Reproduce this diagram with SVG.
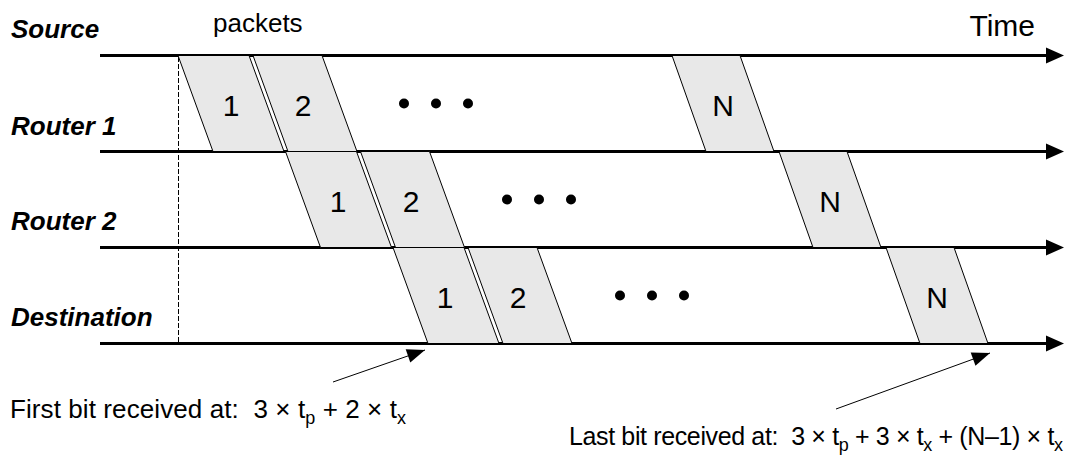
<svg xmlns="http://www.w3.org/2000/svg" width="1068" height="455" viewBox="0 0 1068 455">
<style>
.lbl{font-family:"Liberation Sans",Arial,sans-serif;font-size:26px;font-weight:bold;font-style:italic;fill:#000}
.txt{font-family:"Liberation Sans",Arial,sans-serif;fill:#000}
.pk{fill:#e8e8e8;stroke:#000;stroke-width:1}
.pn{font-family:"Liberation Sans",Arial,sans-serif;font-size:30px;fill:#000;text-anchor:middle}
.tl{stroke:#000;stroke-width:3;fill:none}
.ar{stroke:#000;stroke-width:1;fill:none}
.dot{fill:#000}
</style>
<defs>
<marker id="bigHead" markerUnits="userSpaceOnUse" markerWidth="18" markerHeight="16" refX="0" refY="8" orient="auto" overflow="visible">
<path d="M0,0 L18,8 L0,16 Z" fill="#000"/>
</marker>
<marker id="smallHead" markerUnits="userSpaceOnUse" markerWidth="18" markerHeight="14" refX="18" refY="7" orient="auto" overflow="visible">
<path d="M0,0 L18,7 L0,14 Z" fill="#000"/>
</marker>
</defs>
<rect width="1068" height="455" fill="#fff"/>

<g id="connectors">
<line class="tl" x1="100" y1="55.5" x2="1046" y2="55.5" marker-end="url(#bigHead)"/>
<line class="tl" x1="100" y1="151.5" x2="1046" y2="151.5" marker-end="url(#bigHead)"/>
<line class="tl" x1="100" y1="247.5" x2="1046" y2="247.5" marker-end="url(#bigHead)"/>
<line class="tl" x1="100" y1="343.5" x2="1046" y2="343.5" marker-end="url(#bigHead)"/>
<line x1="178.5" y1="57" x2="178.5" y2="342" stroke="#000" stroke-width="1" stroke-dasharray="5 2"/>
<line class="ar" x1="333" y1="382" x2="425" y2="350" marker-end="url(#smallHead)"/>
<line class="ar" x1="836" y1="409" x2="990" y2="353" marker-end="url(#smallHead)"/>
</g>

<g id="labels">
<text class="lbl" x="11" y="38">Source</text>
<text class="lbl" x="11" y="135">Router 1</text>
<text class="lbl" x="11" y="230">Router 2</text>
<text class="lbl" x="11" y="326">Destination</text>
<text class="txt" x="213" y="32" font-size="26">packets</text>
<text class="txt" x="1035" y="36" font-size="30" text-anchor="end">Time</text>
</g>

<g id="row1">
<polygon class="pk" points="178,55.5 249,55.5 284,151.5 213,151.5"/>
<polygon class="pk" points="253,55.5 322,55.5 357,151.5 288,151.5"/>
<polygon class="pk" points="672,55.5 740,55.5 774,151.5 706,151.5"/>
<text class="pn" x="231" y="116">1</text>
<text class="pn" x="303" y="116">2</text>
<text class="pn" x="723" y="116">N</text>
<circle class="dot" cx="404" cy="103.5" r="5"/>
<circle class="dot" cx="436" cy="103.5" r="5"/>
<circle class="dot" cx="468" cy="103.5" r="5"/>
</g>

<g id="row2">
<polygon class="pk" points="285.5,151.5 356.5,151.5 391.5,247.5 320.5,247.5"/>
<polygon class="pk" points="360.5,151.5 429.5,151.5 464.5,247.5 395.5,247.5"/>
<polygon class="pk" points="779,151.5 847,151.5 881,247.5 813,247.5"/>
<text class="pn" x="338" y="212">1</text>
<text class="pn" x="411" y="212">2</text>
<text class="pn" x="830" y="212">N</text>
<circle class="dot" cx="507" cy="199.5" r="5"/>
<circle class="dot" cx="539" cy="199.5" r="5"/>
<circle class="dot" cx="571" cy="199.5" r="5"/>
</g>

<g id="row3">
<polygon class="pk" points="393,247.5 464,247.5 499,343.5 428,343.5"/>
<polygon class="pk" points="468,247.5 537,247.5 572,343.5 503,343.5"/>
<polygon class="pk" points="886,247.5 954,247.5 988,343.5 920,343.5"/>
<text class="pn" x="445" y="308">1</text>
<text class="pn" x="518" y="308">2</text>
<text class="pn" x="937" y="308">N</text>
<circle class="dot" cx="620" cy="295.5" r="5"/>
<circle class="dot" cx="652" cy="295.5" r="5"/>
<circle class="dot" cx="684" cy="295.5" r="5"/>
</g>

<g id="first-bit">
<text class="txt" x="10" y="418" font-size="26" textLength="396" lengthAdjust="spacing">First bit received at:&#160; 3 × t<tspan font-size="18" dy="6">p</tspan><tspan dy="-6"> + 2 × t</tspan><tspan font-size="18" dy="6">x</tspan></text>
</g>

<g id="last-bit">
<text class="txt" x="569" y="445" font-size="25" textLength="494" lengthAdjust="spacing">Last bit received at:&#160; 3 × t<tspan font-size="18" dy="6">p</tspan><tspan dy="-6"> + 3 × t</tspan><tspan font-size="18" dy="6">x</tspan><tspan dy="-6"> + (N–1) × t</tspan><tspan font-size="18" dy="6">x</tspan></text>
</g>
</svg>
